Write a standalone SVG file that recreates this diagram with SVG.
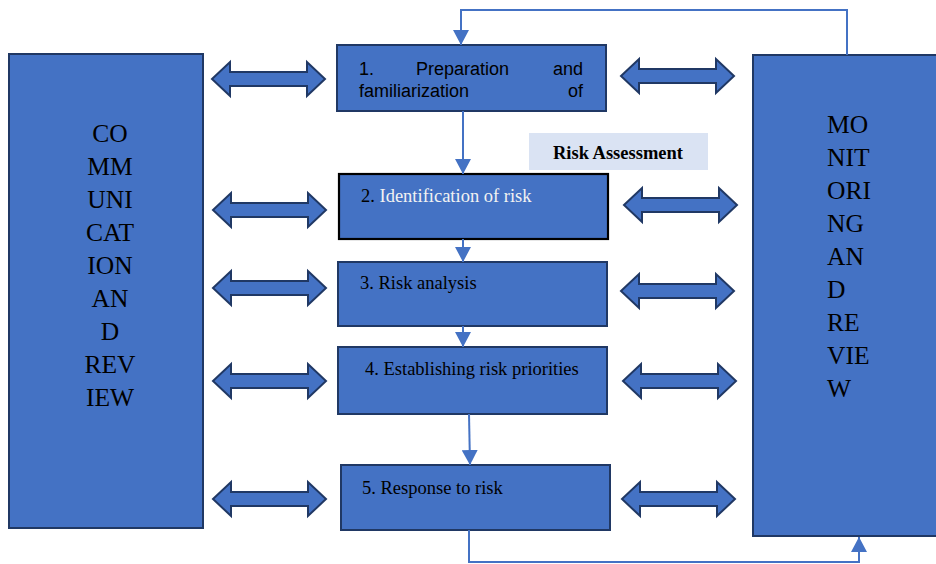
<svg xmlns="http://www.w3.org/2000/svg" width="936" height="564" viewBox="0 0 936 564">
<defs>
<style>
.box{fill:#4472c4;stroke:#203864;stroke-width:2}
.box2{fill:#4472c4;stroke:#000;stroke-width:2.2}
.ser{font-family:"Liberation Serif","Times New Roman",serif;font-size:18.5px;fill:#000}
.san{font-family:"Liberation Sans",Arial,sans-serif;font-size:18px;fill:#000}
.big{font-family:"Liberation Serif","Times New Roman",serif;font-size:25.5px;fill:#000}
.con{fill:none;stroke:#4472c4;stroke-width:2}
.dbl{fill:#4472c4;stroke:#203864;stroke-width:2;stroke-linejoin:miter}
</style>
<marker id="ah" markerUnits="userSpaceOnUse" markerWidth="16" markerHeight="16" viewBox="0 0 16 16" refX="15" refY="8" orient="auto">
<path d="M0,0 L15,8 L0,16 Z" fill="#4472c4"/>
</marker>
<path id="da" d="M0,0 L18,-17 L18,-7 L95,-7 L95,-17 L113,0 L95,17 L95,7 L18,7 L18,17 Z"/>
</defs>

<g id="communication">
<rect class="box" x="9" y="54" width="194" height="474"/>
<g class="big" text-anchor="middle">
<text x="110" y="142">CO</text>
<text x="110" y="175">MM</text>
<text x="110" y="208">UNI</text>
<text x="110" y="241">CAT</text>
<text x="110" y="274">ION</text>
<text x="110" y="307">AN</text>
<text x="110" y="340">D</text>
<text x="110" y="373">REV</text>
<text x="110" y="406">IEW</text>
</g>
</g>

<g id="monitoring">
<rect class="box" x="753" y="55" width="190" height="481"/>
<g class="big">
<text x="827" y="133">MO</text>
<text x="827" y="166">NIT</text>
<text x="827" y="199">ORI</text>
<text x="827" y="232">NG</text>
<text x="827" y="265">AN</text>
<text x="827" y="298">D</text>
<text x="827" y="331">RE</text>
<text x="827" y="364">VIE</text>
<text x="827" y="397">W</text>
</g>
</g>

<g id="step1">
<rect class="box" x="337" y="45" width="269" height="66"/>
<text class="san" x="359" y="75">1.</text>
<text class="san" x="416" y="75">Preparation</text>
<text class="san" x="583" y="75" text-anchor="end">and</text>
<text class="san" x="359" y="97">familiarization</text>
<text class="san" x="583" y="97" text-anchor="end">of</text>
</g>

<g id="risk-assessment">
<rect x="529" y="133" width="179" height="37" fill="#dae3f3"/>
<text class="ser" x="618" y="159" text-anchor="middle" font-weight="bold" style="font-size:18.5px">Risk Assessment</text>
</g>

<g id="step2">
<rect class="box2" x="339" y="174" width="269" height="65"/>
<text class="ser" x="361" y="202">2.<tspan fill="#f2f2f2"> Identification of risk</tspan></text>
</g>

<g id="step3">
<rect class="box" x="338" y="262" width="269" height="64"/>
<text class="ser" x="360" y="289">3. Risk analysis</text>
</g>

<g id="step4">
<rect class="box" x="338" y="347" width="269" height="67"/>
<text class="ser" x="365" y="375">4. Establishing risk priorities</text>
</g>

<g id="step5">
<rect class="box" x="341" y="465" width="269" height="65"/>
<text class="ser" x="362" y="494">5. Response to risk</text>
</g>

<g id="connectors">
<polyline class="con" points="847,55 847,10 461,10 461,45" marker-end="url(#ah)"/>
<line class="con" x1="463" y1="111" x2="463" y2="174" marker-end="url(#ah)"/>
<line class="con" x1="463" y1="239" x2="463" y2="262" marker-end="url(#ah)"/>
<line class="con" x1="463" y1="326" x2="463" y2="347" marker-end="url(#ah)"/>
<line class="con" x1="469" y1="414" x2="470" y2="465" marker-end="url(#ah)"/>
<polyline class="con" points="469,530 469,562 859,562 859,537" marker-end="url(#ah)"/>
<use href="#da" class="dbl" x="212" y="79"/>
<use href="#da" class="dbl" x="213" y="210"/>
<use href="#da" class="dbl" x="213" y="288"/>
<use href="#da" class="dbl" x="213" y="381"/>
<use href="#da" class="dbl" x="213" y="499"/>
<use href="#da" class="dbl" x="621" y="76"/>
<use href="#da" class="dbl" x="624" y="205"/>
<use href="#da" class="dbl" x="621" y="291"/>
<use href="#da" class="dbl" x="623" y="381"/>
<use href="#da" class="dbl" x="622" y="499"/>
</g>
</svg>
